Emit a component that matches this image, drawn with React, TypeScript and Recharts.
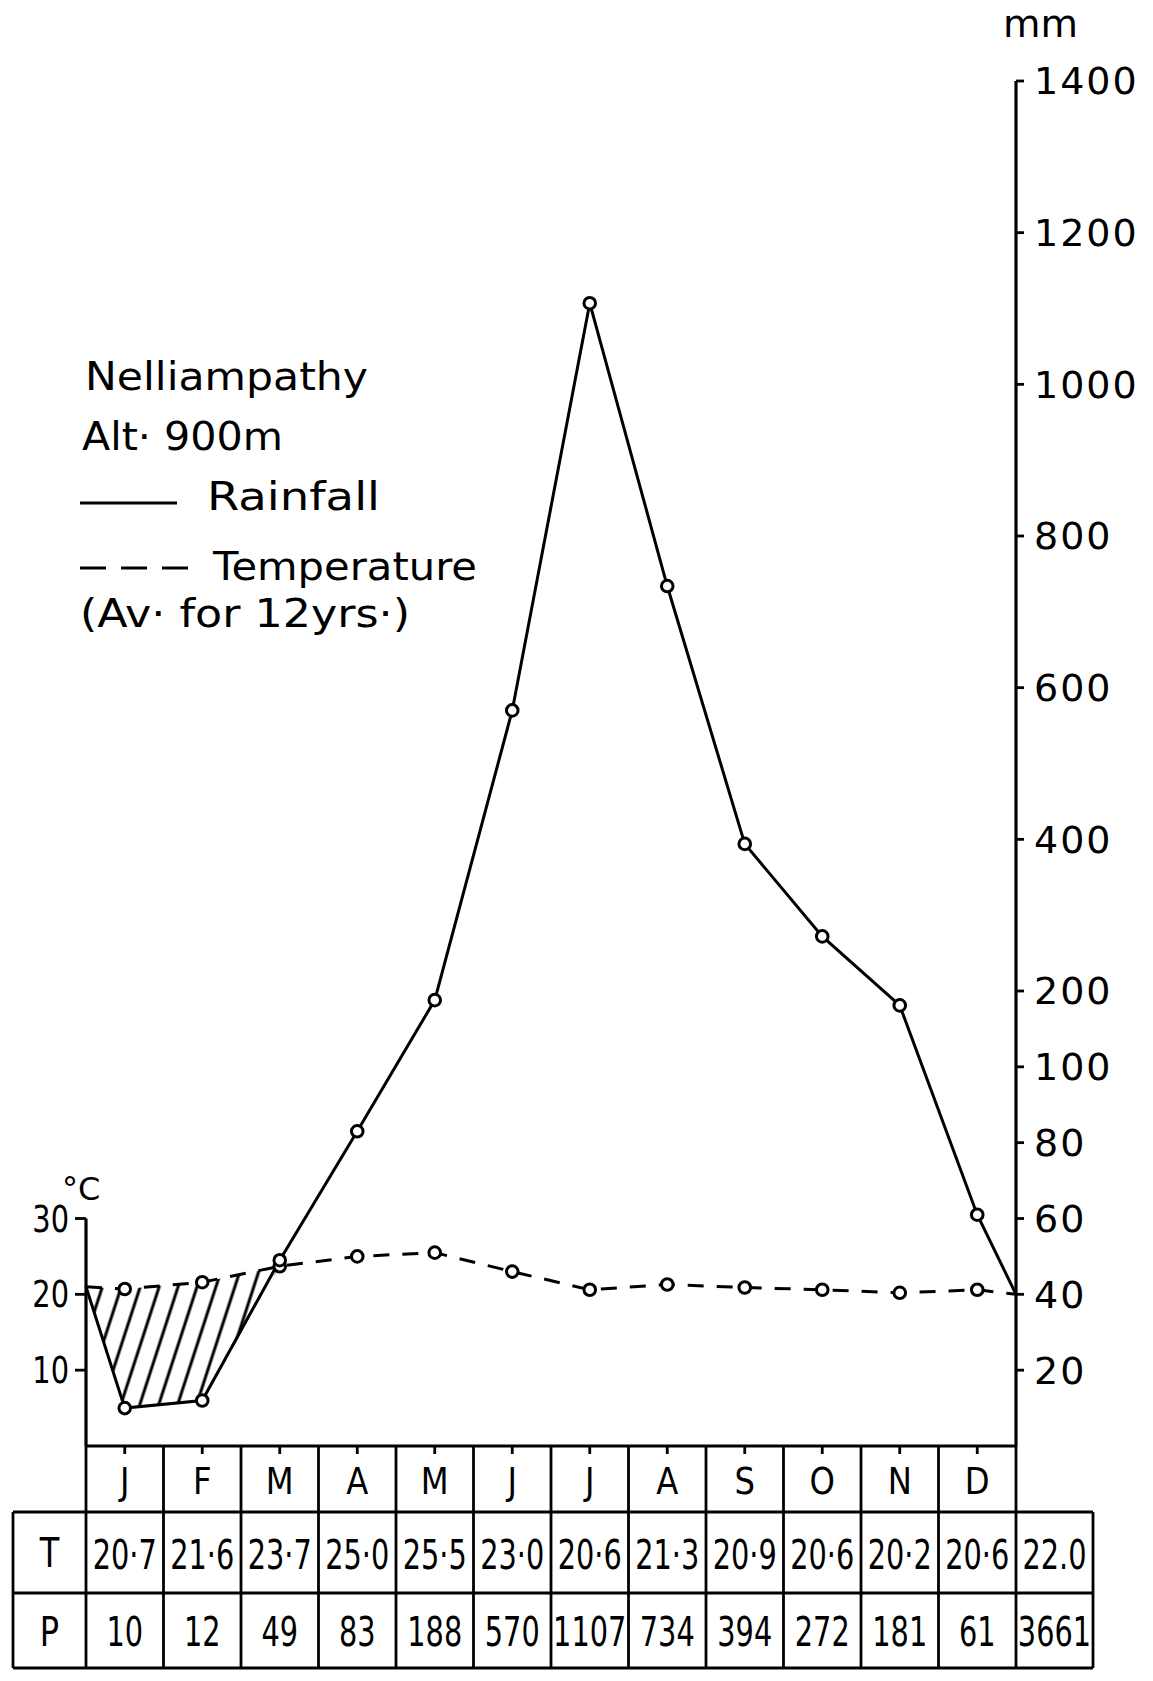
import React from 'react';
import { ComposedChart, Line, Area, XAxis, YAxis, ReferenceLine } from 'recharts';

// ---------- data ----------
const months = ['J', 'F', 'M', 'A', 'M', 'J', 'J', 'A', 'S', 'O', 'N', 'D'];
const temperature = [20.7, 21.6, 23.7, 25.0, 25.5, 23.0, 20.6, 21.3, 20.9, 20.6, 20.2, 20.6];
const rainfall = [10, 12, 49, 83, 188, 570, 1107, 734, 394, 272, 181, 61];
const temperatureLabels = ['20·7', '21·6', '23·7', '25·0', '25·5', '23·0', '20·6', '21·3', '20·9', '20·6', '20·2', '20·6'];
const annualTemperature = '22.0';
const annualRainfall = '3661';
// where the two curves meet the left and right edges of the diagram
const edgeTemperature = [21.0, 20.0];
const edgeRainfall = [42, 40];
const temperatureTicks = [10, 20, 30];
const rainfallTicks = [20, 40, 60, 80, 100, 200, 400, 600, 800, 1000, 1200, 1400];
const legendLines = ['Nelliampathy', 'Alt· 900m', 'Rainfall', 'Temperature', '(Av· for 12yrs·)'];

// Walter-Lieth scale: 10 °C = 20 mm up to 100 mm, then 10 mm per unit
const toUnits = (mm: number) => (mm <= 100 ? mm / 2 : 50 + (mm - 100) / 10);
const fromUnits = (u: number) => (u <= 50 ? u * 2 : 100 + (u - 50) * 10);

const positions = [0.5, ...months.map((_, i) => i + 1), 12.5];
const temps = [edgeTemperature[0], ...temperature, edgeTemperature[1]];
const rains = [edgeRainfall[0], ...rainfall, edgeRainfall[1]];
const isDry = (j: number) => toUnits(rains[j]) < temps[j];
const data = positions.map((x, i) => {
  const t = temps[i];
  const r = toUnits(rains[i]);
  let hatch: number[] | null = null;
  if (r < t) hatch = [r, t];
  else if ((i > 0 && isDry(i - 1)) || (i < positions.length - 1 && isDry(i + 1))) hatch = [t, t];
  return { x, edge: i === 0 || i === positions.length - 1, temp: t, rain: r, hatch };
});

// ---------- layout ----------
const W = 1153;
const H = 1681;
const PLOT_LEFT = 86;
const PLOT_RIGHT = 1016;
const PLOT_TOP = 81;
const PLOT_BOTTOM = 1446;
const X_AXIS_H = 60;
const COL = (PLOT_RIGHT - PLOT_LEFT) / 12;
const TABLE_LEFT = 13;
const TABLE_RIGHT = 1093;
const ROW_T = 1512;
const ROW_P = 1593;
const TABLE_BOTTOM = 1668;
const FONT = '"DejaVu Sans", "Liberation Sans", sans-serif';

const renderDot = (props: any) => {
  const { cx, cy, payload, index } = props;
  if (!payload || payload.edge || cx == null || cy == null) return <g key={`e${index}`} />;
  return <circle key={`d${index}`} cx={cx} cy={cy} r={5.8} fill="#fff" stroke="#000" strokeWidth={3} />;
};

const Narrow = ({ x, y, size, sx, anchor = 'middle', children }: any) => (
  <text
    transform={`translate(${x} ${y}) scale(${sx} 1)`}
    textAnchor={anchor}
    fontSize={size}
    fontFamily={FONT}
    fill="#000"
  >
    {children}
  </text>
);

const MonthTick = (props: any) => {
  const { x, y, payload, index } = props;
  const label = months[Math.round(payload.value) - 1] ?? '';
  return (
    <g key={`m${index}`}>
      <Narrow x={x} y={y + 40} size={38} sx={0.85}>{label}</Narrow>
    </g>
  );
};

const TempTick = (props: any) => {
  const { x, y, payload, index } = props;
  return (
    <g key={`t${index}`}>
      <Narrow x={x} y={y + 13} size={37} sx={0.78} anchor="end">{payload.value}</Narrow>
    </g>
  );
};

export default function App() {
  const colX = (k: number) => PLOT_LEFT + k * COL;
  const lineStyle = { stroke: '#000', strokeWidth: 2.8 };
  const legendText = { fontSize: 39, fontFamily: FONT, lengthAdjust: 'spacingAndGlyphs' as const };
  return (
    <div style={{ position: 'absolute', left: 0, top: 0, width: W, height: H, background: '#fff' }}>
      <ComposedChart
        width={W}
        height={H}
        data={data}
        margin={{ top: PLOT_TOP, right: 0, bottom: H - PLOT_BOTTOM - X_AXIS_H, left: 0 }}
      >
        <defs>
          <pattern id="hatch" patternUnits="userSpaceOnUse" width="18" height="18" patternTransform="rotate(18)">
            <line x1="9" y1="-2" x2="9" y2="20" stroke="#000" strokeWidth="3" />
          </pattern>
        </defs>
        <XAxis
          dataKey="x"
          type="number"
          domain={[0.5, 12.5]}
          ticks={months.map((_, i) => i + 1)}
          interval={0}
          height={X_AXIS_H}
          tickSize={8}
          tickMargin={0}
          axisLine={{ stroke: '#000', strokeWidth: 3 }}
          tickLine={{ stroke: '#000', strokeWidth: 2.8 }}
          tick={(p: any) => <MonthTick {...p} />}
        />
        <YAxis
          yAxisId="t"
          orientation="left"
          width={PLOT_LEFT}
          domain={[0, 180]}
          ticks={temperatureTicks}
          interval={0}
          axisLine={false}
          tickSize={11}
          tickMargin={6}
          tickLine={{ stroke: '#000', strokeWidth: 2.8 }}
          tick={(p: any) => <TempTick {...p} />}
        />
        <YAxis
          yAxisId="p"
          orientation="right"
          width={W - PLOT_RIGHT}
          domain={[0, 180]}
          ticks={rainfallTicks.map(toUnits)}
          interval={0}
          tickFormatter={(v: number) => String(Math.round(fromUnits(v)))}
          axisLine={{ stroke: '#000', strokeWidth: 3.2 }}
          tickSize={8}
          tickMargin={10}
          tickLine={{ stroke: '#000', strokeWidth: 2.8 }}
          tick={{ fill: '#000', fontSize: 38, fontFamily: FONT, letterSpacing: 2 }}
        />
        <ReferenceLine
          yAxisId="t"
          segment={[{ x: 0.5, y: 0 }, { x: 0.5, y: 30 }]}
          stroke="#000"
          strokeWidth={3.2}
          ifOverflow="visible"
        />
        <Area
          yAxisId="t"
          dataKey="hatch"
          type="linear"
          stroke="none"
          fill="url(#hatch)"
          fillOpacity={1}
          connectNulls={false}
          dot={false}
          activeDot={false}
          isAnimationActive={false}
        />
        <Line
          yAxisId="t"
          dataKey="temp"
          type="linear"
          stroke="#000"
          strokeWidth={3}
          strokeDasharray="16 13"
          dot={renderDot}
          activeDot={false}
          isAnimationActive={false}
        />
        <Line
          yAxisId="p"
          dataKey="rain"
          type="linear"
          stroke="#000"
          strokeWidth={3}
          dot={renderDot}
          activeDot={false}
          isAnimationActive={false}
        />
      </ComposedChart>

      <svg
        width={W}
        height={H}
        style={{ position: 'absolute', left: 0, top: 0, pointerEvents: 'none' }}
      >
        {/* legend */}
        <text x={85} y={390} {...legendText} textLength={283}>{legendLines[0]}</text>
        <text x={82} y={450} {...legendText} textLength={201}>{legendLines[1]}</text>
        <line x1={80} y1={503} x2={177} y2={503} stroke="#000" strokeWidth={3} />
        <text x={207} y={510} {...legendText} textLength={173}>{legendLines[2]}</text>
        <line x1={80} y1={568} x2={188} y2={568} stroke="#000" strokeWidth={3} strokeDasharray="26 15" />
        <text x={213} y={580} {...legendText} textLength={264}>{legendLines[3]}</text>
        <text x={80} y={627} {...legendText} textLength={330}>{legendLines[4]}</text>

        {/* axis units */}
        <text x={1003} y={37} fontSize={38} fontFamily={FONT} textLength={75} lengthAdjust="spacingAndGlyphs">mm</text>
        <text x={62} y={1200} fontSize={32} fontFamily={FONT}>°C</text>

        {/* table grid */}
        {Array.from({ length: 13 }, (_, k) => (
          <line key={`v${k}`} x1={colX(k)} y1={PLOT_BOTTOM} x2={colX(k)} y2={TABLE_BOTTOM} {...lineStyle} />
        ))}
        <line x1={TABLE_LEFT} y1={ROW_T} x2={TABLE_LEFT} y2={TABLE_BOTTOM} {...lineStyle} />
        <line x1={TABLE_RIGHT} y1={ROW_T} x2={TABLE_RIGHT} y2={TABLE_BOTTOM} {...lineStyle} />
        {[ROW_T, ROW_P, TABLE_BOTTOM].map((y) => (
          <line key={`h${y}`} x1={TABLE_LEFT} y1={y} x2={TABLE_RIGHT} y2={y} {...lineStyle} />
        ))}

        {/* table text */}
        <Narrow x={(TABLE_LEFT + PLOT_LEFT) / 2} y={1567} size={40} sx={0.8}>T</Narrow>
        <Narrow x={(TABLE_LEFT + PLOT_LEFT) / 2} y={1646} size={40} sx={0.8}>P</Narrow>
        {temperatureLabels.map((s, i) => (
          <Narrow key={`tv${i}`} x={colX(i + 0.5)} y={1569} size={40} sx={0.72}>{s}</Narrow>
        ))}
        {rainfall.map((v, i) => (
          <Narrow key={`pv${i}`} x={colX(i + 0.5)} y={1646} size={40} sx={0.72}>{String(v)}</Narrow>
        ))}
        <Narrow x={(PLOT_RIGHT + TABLE_RIGHT) / 2} y={1569} size={40} sx={0.72}>{annualTemperature}</Narrow>
        <Narrow x={(PLOT_RIGHT + TABLE_RIGHT) / 2} y={1646} size={40} sx={0.72}>{annualRainfall}</Narrow>
      </svg>
    </div>
  );
}
